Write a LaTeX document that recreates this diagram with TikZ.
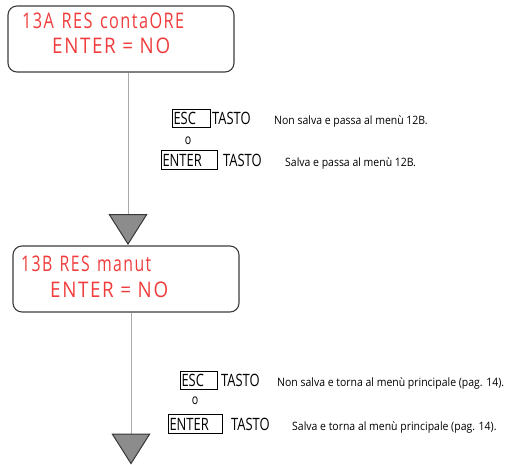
\documentclass[tikz,border=0pt]{standalone}
\usepackage{fontspec}
\usepackage{graphicx}
\setmainfont{Open Sans}
\newfontfamily\redfam[FakeStretch=0.8,LetterSpace=7]{Open Sans}
\newfontfamily\keyfam[FakeStretch=0.76]{Open Sans}
\newfontfamily\smallfam[FakeStretch=0.91]{Open Sans}
\usetikzlibrary{arrows.meta}
\definecolor{redtxt}{RGB}{240,60,60}
\definecolor{boxline}{RGB}{60,60,60}
\definecolor{connline}{RGB}{170,170,170}
\definecolor{trifill}{RGB}{140,140,140}
\definecolor{triline}{RGB}{55,55,55}
\newsavebox\fitbox
\newcommand\fitw[2]{\sbox\fitbox{#2}\pgfmathsetmacro\fitr{#1/\the\wd\fitbox}\scalebox{\fitr}[1]{\usebox\fitbox}}
\tikzset{
  menubox/.style={draw=boxline, line width=1.1pt, rounded corners=9pt, minimum width=226pt, minimum height=66pt, inner sep=0pt},
  redline/.style={text=redtxt, font=\redfam\fontsize{21.5}{21.5}\selectfont, inner sep=0pt, anchor=base west},
  keybox/.style={draw=black, line width=0.6pt, inner sep=0pt, font=\keyfam\fontsize{17}{17}\selectfont},
  keytxt/.style={inner sep=0pt, anchor=base west, font=\keyfam\fontsize{17}{17}\selectfont},
  ortxt/.style={inner sep=0pt, font=\keyfam\fontsize{14}{14}\selectfont},
  note/.style={inner sep=0pt, anchor=base west, font=\smallfam\fontsize{11.5}{11.5}\selectfont},
  conn/.style={draw=connline, line width=1pt,
    -{Triangle[width=39pt,length=31pt,color=triline,fill=trifill,line width=1pt]}}
}
\begin{document}
\begin{tikzpicture}[x=1pt,y=-1pt]
\useasboundingbox (0,0) rectangle (511,465);
% menu 13A
\node[menubox] (box1) at (121,39) {};
\node[redline] (b1a) at (22,29) {\fitw{162}{13A\hspace{8pt}RES\hspace{8pt}contaORE}};
\node[redline] (b1b) at (52,54) {\fitw{118}{ENTER\hspace{6pt}=\hspace{6pt}NO}};
% menu 13B
\node[menubox] (box2) at (126,279) {};
\node[redline] (b2a) at (21,271) {\fitw{130}{13B\hspace{8pt}RES\hspace{8pt}manut}};
\node[redline] (b2b) at (50,297) {\fitw{118}{ENTER\hspace{6pt}=\hspace{6pt}NO}};
% connectors
\coordinate (t1) at (128,245);
\coordinate (t2) at (131,464.5);
\draw[conn] (box1.south -| t1) -- (t1);
\draw[conn] (box2.south -| t2) -- (t2);
% keys group 1
\node[keybox, minimum width=38pt, minimum height=18pt] (esc1) at (191,118) {\makebox[38pt][l]{\hspace{1.5pt}ESC}};
\node[keytxt] (tasto1) at (212,124.5) {TASTO};
\node[note] (n1) at (274,124.5) {Non salva e passa al menù 12B.};
\node[ortxt] (o1) at (188,141) {o};
\node[keybox, minimum width=56pt, minimum height=19pt] (ent1) at (189,160) {\makebox[56pt][l]{\hspace{1.5pt}ENTER}};
\node[keytxt] (tasto2) at (223,166.5) {TASTO};
\node[note] (n2) at (285,166.5) {Salva e passa al menù 12B.};
% keys group 2
\node[keybox, minimum width=37pt, minimum height=18pt] (esc2) at (198.5,380) {\makebox[37pt][l]{\hspace{1.5pt}ESC}};
\node[keytxt] (tasto3) at (221,386.5) {TASTO};
\node[note] (n3) at (277,386.5) {Non salva e torna al menù principale (pag. 14).};
\node[ortxt] (o2) at (195,401) {o};
\node[keybox, minimum width=54pt, minimum height=19pt] (ent2) at (195,424) {\makebox[54pt][l]{\hspace{1.5pt}ENTER}};
\node[keytxt] (tasto4) at (231,430.5) {TASTO};
\node[note] (n4) at (292,430.5) {Salva e torna al menù principale (pag. 14).};
\end{tikzpicture}
\end{document}
